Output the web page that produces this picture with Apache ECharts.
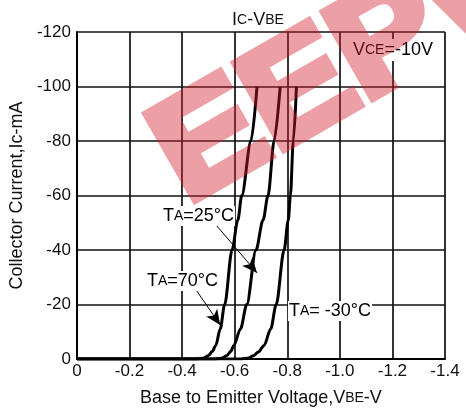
<!DOCTYPE html>
<html><head><meta charset="utf-8">
<script src="https://cdn.jsdelivr.net/npm/echarts@6/dist/echarts.min.js"></script>
<style>html,body{margin:0;padding:0;background:#fff;}#c{width:466px;height:412px;}</style>
</head><body><div id="c"></div>
<script>
// ---- data ----
const xMin = -1.4, xMax = 0, xStep = 0.2;
const yMin = -120, yMax = 0, yStep = 20;

const vbe70 = [0, -0.455, -0.48, -0.50, -0.515, -0.528, -0.545, -0.562, -0.59, -0.612, -0.627, -0.662, -0.685];
const ic70  = [0, 0, -0.3, -1.2, -2.8, -5, -11, -20, -40, -51, -60, -80, -100];

const vbe25 = [0, -0.525, -0.55, -0.57, -0.585, -0.597, -0.622, -0.646, -0.681, -0.708, -0.727, -0.750, -0.773];
const ic25  = [0, 0, -0.3, -1.2, -2.8, -5, -11, -20, -40, -51, -60, -80, -100];

const vbeM30 = [0, -0.625, -0.65, -0.672, -0.69, -0.712, -0.737, -0.758, -0.788, -0.804, -0.812, -0.823, -0.835];
const icM30  = [0, 0, -0.3, -1.2, -2.6, -5, -11, -20, -40, -51, -60, -80, -100];

// annotation arrows [fromX, fromY, toX, toY] in data units
const arrow25 = [-0.528, -49.3, -0.685, -31.6];
const arrow70 = [-0.452, -25.5, -0.545, -12.5];

const pair = (xs, ys) => xs.map((x, i) => [x, ys[i]]);

// watermark (background logo), drawn opaque offscreen then composited translucent
const wm = document.createElement('canvas');
wm.width = 466; wm.height = 412;
(function () {
  const g = wm.getContext('2d');
  g.translate(187, 204);
  g.rotate(-0.52);
  g.scale(1.08, 1);
  g.font = 'bold 142px "Liberation Sans", sans-serif';
  g.textBaseline = 'alphabetic';
  g.fillStyle = g.strokeStyle = 'rgb(210,30,45)';
  g.lineWidth = 9;
  g.lineJoin = 'miter';
  g.fillText('EEPW', 0, 0);
  g.strokeText('EEPW', 0, 0);
})();

const chart = echarts.init(document.getElementById('c'), null, {renderer: 'canvas'});
const FONT = 'Liberation Sans, Arial, sans-serif';
const base = {fontFamily: FONT, fontSize: 18, color: '#111', fontWeight: 'normal'};
const small = {fontFamily: FONT, fontSize: 14, color: '#111', fontWeight: 'normal'};

function curve(name, data, extra) {
  return Object.assign({
    name, type: 'line', data, showSymbol: false, smooth: 0.3, smoothMonotone: 'x',
    lineStyle: {color: '#000', width: 3}, z: 5, animation: false
  }, extra || {});
}
function arrowLine(a) {
  return [{coord: [a[0], a[1]], symbol: 'none'}, {coord: [a[2], a[3]], symbol: 'arrow'}];
}

chart.setOption({
  animation: false,
  title: {
    text: '{a|I}{b|C}{a|-V}{b|BE}', left: 253, top: 6, textAlign: 'center',
    textStyle: {fontWeight: 'normal', rich: {a: Object.assign({}, base), b: Object.assign({}, small)}}
  },
  grid: {left: 73, right: 21, top: 32, bottom: 52},
  xAxis: {
    type: 'value', min: xMin, max: xMax, interval: xStep, inverse: true,
    axisLine: {show: true, onZero: false, lineStyle: {color: '#000', width: 2}},
    axisTick: {show: false},
    splitLine: {show: true, lineStyle: {color: '#111', width: 1.7}},
    axisLabel: {margin: 4, fontFamily: FONT, fontSize: 17, color: '#111',
      formatter: v => (Math.abs(v) < 1e-9 ? '0' : v.toFixed(1))},
    name: '{a|Base to Emitter Voltage,V}{b|BE}{a|-V}',
    nameLocation: 'middle', nameGap: 30,
    nameTextStyle: {rich: {a: Object.assign({}, base), b: Object.assign({}, small)}}
  },
  yAxis: {
    type: 'value', min: yMin, max: yMax, interval: yStep, inverse: true,
    axisLine: {show: true, onZero: false, lineStyle: {color: '#000', width: 2}},
    axisTick: {show: false},
    splitLine: {show: true, lineStyle: {color: '#111', width: 1.7}},
    axisLabel: {margin: 6, fontFamily: FONT, fontSize: 17, color: '#111'},
    name: 'Collector Current,Ic-mA', nameLocation: 'middle', nameGap: 47,
    nameTextStyle: Object.assign({}, base)
  },
  series: [
    curve('TA=70°C', pair(vbe70, ic70), {
      markLine: {silent: true, symbolSize: [10, 15], lineStyle: {color: '#000', width: 1, type: 'solid'},
        label: {show: false}, data: [arrowLine(arrow70), arrowLine(arrow25)], animation: false}
    }),
    curve('TA=25°C', pair(vbe25, ic25)),
    curve('TA=-30°C', pair(vbeM30, icM30))
  ],
  graphic: [
    {type: 'text', left: 352, top: 39, z: 10,
      style: {rich: {a: base, b: small}, text: '{a|V}{b|CE}{a|=-10V}', backgroundColor: '#fff', padding: [2, 1]}},
    {type: 'text', left: 162, top: 206, z: 10,
      style: {rich: {a: base, b: small}, text: '{a|T}{b|A}{a|=25°C}', backgroundColor: '#fff', padding: [1, 1]}},
    {type: 'text', left: 146, top: 271, z: 10,
      style: {rich: {a: base, b: small}, text: '{a|T}{b|A}{a|=70°C}', backgroundColor: '#fff', padding: [1, 1]}},
    {type: 'text', left: 288, top: 301, z: 10,
      style: {rich: {a: base, b: small}, text: '{a|T}{b|A}{a|= -30°C}', backgroundColor: '#fff', padding: [1, 1]}},
    {type: 'image', x: 0, y: 0, z: 100, silent: true,
      style: {image: wm, x: 0, y: 0, width: 466, height: 412, opacity: 0.42}}
  ]
});
</script></body></html>
